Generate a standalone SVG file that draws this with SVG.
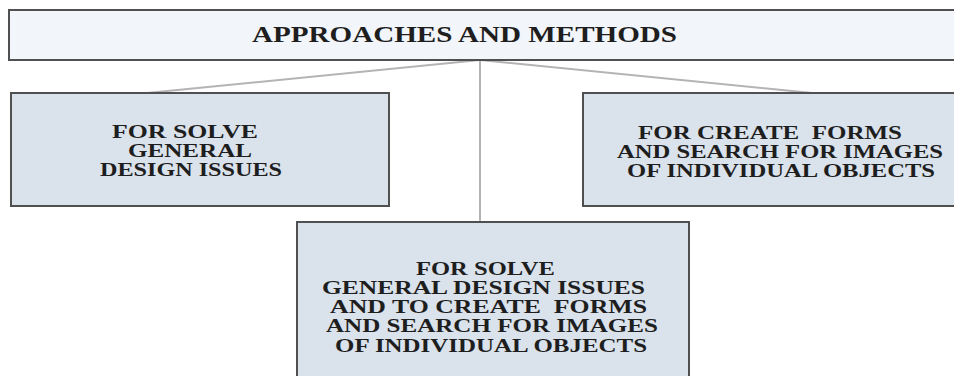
<svg xmlns="http://www.w3.org/2000/svg" width="954" height="376" viewBox="0 0 954 376">
<style>
.box{fill:#dae2eb;stroke:#505050;stroke-width:2}
.top{fill:#f2f5f9;stroke:#505050;stroke-width:2}
.conn{stroke:#b4b4b4;stroke-width:2;fill:none}
text{font-family:"Liberation Serif","Times New Roman",serif;font-weight:bold;fill:#1e1e1e}
.t1{font-size:24px}
.t2{font-size:19px}
</style>
<rect width="954" height="376" fill="#ffffff"/>
<g id="connectors">
<line class="conn" x1="480" y1="60" x2="147" y2="93"/>
<line class="conn" x1="480" y1="60" x2="812" y2="93"/>
<line class="conn" x1="480" y1="60" x2="480" y2="222"/>
</g>
<g id="node-top">
<rect class="top" x="9" y="10" width="955" height="50"/>
<text class="t1" x="252" y="42" textLength="425" lengthAdjust="spacingAndGlyphs">APPROACHES AND METHODS</text>
</g>
<g id="node-left">
<rect class="box" x="11" y="93" width="378" height="113"/>
<text class="t2" x="112" y="138" textLength="146" lengthAdjust="spacingAndGlyphs">FOR SOLVE</text>
<text class="t2" x="128" y="157" textLength="124" lengthAdjust="spacingAndGlyphs">GENERAL</text>
<text class="t2" x="100" y="176" textLength="182" lengthAdjust="spacingAndGlyphs">DESIGN ISSUES</text>
</g>
<g id="node-right">
<rect class="box" x="583" y="93" width="380" height="113"/>
<text class="t2" x="638" y="139" textLength="264" lengthAdjust="spacingAndGlyphs" xml:space="preserve">FOR CREATE  FORMS</text>
<text class="t2" x="617" y="158" textLength="326" lengthAdjust="spacingAndGlyphs">AND SEARCH FOR IMAGES</text>
<text class="t2" x="627" y="177" textLength="308" lengthAdjust="spacingAndGlyphs">OF INDIVIDUAL OBJECTS</text>
</g>
<g id="node-middle">
<rect class="box" x="297" y="222" width="392" height="165"/>
<text class="t2" x="416" y="275" textLength="139" lengthAdjust="spacingAndGlyphs">FOR SOLVE</text>
<text class="t2" x="322" y="294" textLength="323" lengthAdjust="spacingAndGlyphs">GENERAL DESIGN ISSUES</text>
<text class="t2" x="330" y="313" textLength="317" lengthAdjust="spacingAndGlyphs" xml:space="preserve">AND TO CREATE  FORMS</text>
<text class="t2" x="326" y="332" textLength="332" lengthAdjust="spacingAndGlyphs">AND SEARCH FOR IMAGES</text>
<text class="t2" x="335" y="352" textLength="312" lengthAdjust="spacingAndGlyphs">OF INDIVIDUAL OBJECTS</text>
</g>
</svg>
